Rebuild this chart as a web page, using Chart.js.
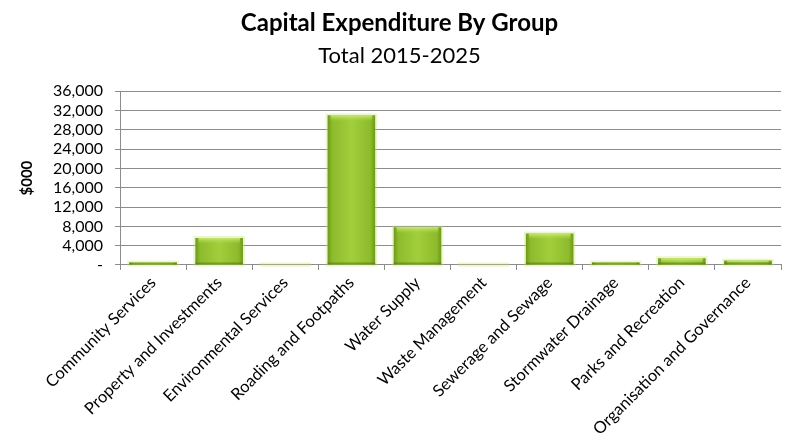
<!DOCTYPE html>
<html>
<head>
<meta charset="utf-8">
<script src="https://cdn.jsdelivr.net/npm/chart.js@4.4.1/dist/chart.umd.min.js"></script>
<style>
  html, body { margin: 0; padding: 0; background: #fff; }
  #wrap { width: 787px; height: 442px; }
</style>
</head>
<body>
<div id="wrap"><canvas id="capexChart" width="787" height="442"></canvas></div>
<script>
// capital expenditure per group, $000, 2015-2025 total
const groups = ['Community Services', 'Property and Investments', 'Environmental Services',
  'Roading and Footpaths', 'Water Supply', 'Waste Management', 'Sewerage and Sewage',
  'Stormwater Drainage', 'Parks and Recreation', 'Organisation and Governance'];
const spend = [500, 5600, 100, 31000, 7800, 100, 6500, 500, 1400, 900];
const yMax = 36000;
const yStep = 4000;

const BAR_FRAC = 0.72;
const fontFam = 'Lato, "Open Sans", sans-serif';

// horizontal shading so the bars look rounded
function barFill(ctx) {
  const chart = ctx.chart;
  const xs = chart.scales.x;
  if (!xs || !chart.chartArea || ctx.dataIndex === undefined) return '#8fbf2e';
  const cx = xs.getPixelForValue(ctx.dataIndex);
  const half = xs.width / groups.length * BAR_FRAC / 2;
  if (!Number.isFinite(cx) || !Number.isFinite(half)) return '#8fbf2e';
  const g = chart.ctx.createLinearGradient(cx - half, 0, cx + half, 0);
  g.addColorStop(0, '#6e981c');
  g.addColorStop(0.1, '#8dbb2c');
  g.addColorStop(0.5, '#a2ce3b');
  g.addColorStop(0.9, '#8dbb2c');
  g.addColorStop(1, '#6e981c');
  return g;
}

// light bevel along the top edge of each bar + soft glow
const bevel = {
  id: 'bevel',
  beforeDatasetsDraw(chart) {
    const ctx = chart.ctx;
    ctx.save();
    chart.getDatasetMeta(0).data.forEach(bar => {
      const h = bar.base - bar.y;
      ctx.fillStyle = 'rgba(200,230,110,0.35)';
      ctx.fillRect(bar.x - bar.width / 2 - 2, bar.y - 2, bar.width + 4, h + 4);
    });
    ctx.restore();
  },
  afterDatasetsDraw(chart) {
    const ctx = chart.ctx;
    ctx.save();
    chart.getDatasetMeta(0).data.forEach(bar => {
      const h = bar.base - bar.y;
      const bh = Math.min(6, h);
      if (bh <= 0) return;
      const g = ctx.createLinearGradient(0, bar.y, 0, bar.y + bh);
      g.addColorStop(0, 'rgba(205,235,120,0.95)');
      g.addColorStop(1, 'rgba(170,215,70,0)');
      ctx.fillStyle = g;
      ctx.fillRect(bar.x - bar.width / 2 + 3, bar.y, bar.width - 6, bh);
      // darker bottom edge
      ctx.fillStyle = 'rgba(80,110,20,0.5)';
      ctx.fillRect(bar.x - bar.width / 2, bar.base - Math.min(2, h), bar.width, Math.min(2, h));
    });
    ctx.restore();
  }
};

new Chart(document.getElementById('capexChart'), {
  type: 'bar',
  data: {
    labels: groups,
    datasets: [{
      label: '$000',
      data: spend,
      backgroundColor: barFill,
      borderWidth: 0,
      barPercentage: BAR_FRAC,
      categoryPercentage: 1
    }]
  },
  options: {
    responsive: false,
    animation: false,
    layout: { padding: { left: 18, right: 6, top: 0, bottom: 0 } },
    plugins: {
      legend: { display: false },
      tooltip: { enabled: false },
      title: {
        display: true,
        text: 'Capital Expenditure By Group',
        color: '#000',
        font: { family: fontFam, size: 24, weight: 'bold' },
        padding: { top: 9, bottom: 5 }
      },
      subtitle: {
        display: true,
        text: 'Total 2015-2025',
        color: '#000',
        font: { family: fontFam, size: 22 },
        padding: { top: 0, bottom: 22 }
      }
    },
    scales: {
      x: {
        grid: { display: true, drawOnChartArea: false, color: '#8c8c8c', tickLength: 5, offset: true },
        border: { color: '#8c8c8c' },
        ticks: {
          color: '#000',
          font: { family: fontFam, size: 16.5 },
          minRotation: 45,
          maxRotation: 45,
          autoSkip: false,
          padding: 3
        }
      },
      y: {
        min: 0,
        max: yMax,
        grid: { color: '#8c8c8c', tickLength: 5 },
        border: { color: '#8c8c8c' },
        title: {
          display: true,
          text: '$000',
          color: '#000',
          font: { family: fontFam, size: 15, weight: 'bold' },
          padding: { top: 0, bottom: 5 }
        },
        ticks: {
          stepSize: yStep,
          autoSkip: false,
          color: '#000',
          font: { family: fontFam, size: 16 },
          padding: 12,
          callback: v => v === 0 ? '-' : v.toLocaleString('en-US')
        }
      }
    }
  },
  plugins: [bevel]
});
</script>
</body>
</html>
